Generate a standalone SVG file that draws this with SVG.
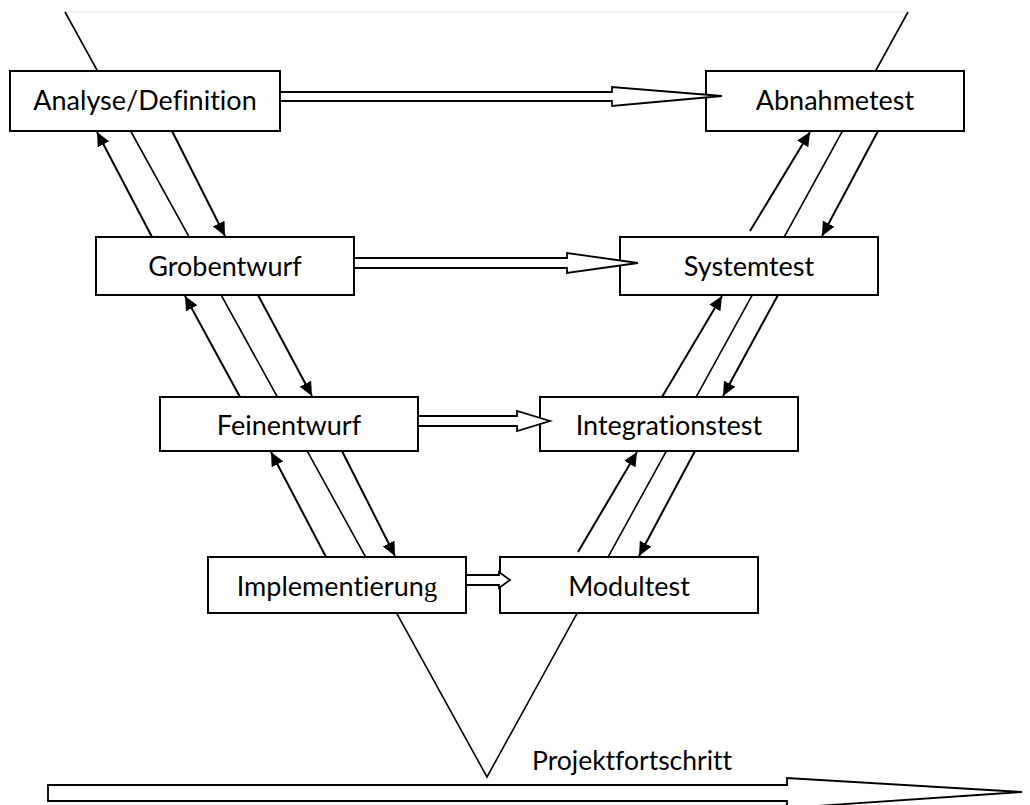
<svg xmlns="http://www.w3.org/2000/svg" width="1030" height="805" viewBox="0 0 1030 805">
  <style>
    .box { fill: #fff; stroke: #000; stroke-width: 2; }
    .lbl { font-family: Lato, "Open Sans", sans-serif; font-size: 27px; fill: #000; text-anchor: middle; font-variant-ligatures: none; }
    .small { font-family: Lato, "Open Sans", sans-serif; font-size: 26.5px; fill: #000; font-variant-ligatures: none; }
    .vee { fill: none; stroke: #000; stroke-width: 1.6; }
    .flow { stroke: #000; stroke-width: 2; fill: none; marker-end: url(#head); }
    .block { fill: #fff; stroke: #000; stroke-width: 1.8; stroke-linejoin: miter; }
  </style>
  <defs>
    <marker id="head" markerUnits="userSpaceOnUse" markerWidth="15" markerHeight="13" refX="14" refY="6.5" orient="auto">
      <path d="M0,0 L14,6.5 L0,13 z" fill="#000"/>
    </marker>
  </defs>

  <rect width="1030" height="805" fill="#fff"/>

  <!-- faint rule across the top -->
  <line x1="65" y1="12" x2="908" y2="12" stroke="#e8e8e8" stroke-width="1.2"/>

  <!-- the V shape behind the phases -->
  <g id="vshape">
    <polyline class="vee" points="65,12 487,777 908,12"/>
  </g>

  <!-- phases -->
  <g id="analyse">
    <rect class="box" x="10" y="71" width="270" height="60"/>
    <text class="lbl" x="145" y="110">Analyse/Definition</text>
  </g>
  <g id="abnahmetest">
    <rect class="box" x="706" y="71" width="258" height="60"/>
    <text class="lbl" x="835" y="110">Abnahmetest</text>
  </g>
  <g id="grobentwurf">
    <rect class="box" x="96" y="237" width="258" height="58"/>
    <text class="lbl" x="225" y="276">Grobentwurf</text>
  </g>
  <g id="systemtest">
    <rect class="box" x="620" y="237" width="258" height="58"/>
    <text class="lbl" x="749" y="276">Systemtest</text>
  </g>
  <g id="feinentwurf">
    <rect class="box" x="160" y="397" width="258" height="54"/>
    <text class="lbl" x="289" y="435">Feinentwurf</text>
  </g>
  <g id="integrationstest">
    <rect class="box" x="540" y="397" width="258" height="54"/>
    <text class="lbl" x="669" y="435">Integrationstest</text>
  </g>
  <g id="implementierung">
    <rect class="box" x="208" y="557" width="258" height="56"/>
    <text class="lbl" x="337" y="596">Implementierun<tspan font-family="'Liberation Serif', serif">g</tspan></text>
  </g>
  <g id="modultest">
    <rect class="box" x="500" y="557" width="258" height="56"/>
    <text class="lbl" x="629" y="596">Modultest</text>
  </g>

  <!-- connectors -->
  <g id="connectors">
    <!-- hollow block arrows between matching phases -->
    <polygon class="block" points="280,92 612,92 612,87 722,96 612,106 612,101 280,101"/>
    <polygon class="block" points="354,258 567,258 567,253 638,263 567,273 567,268 354,268"/>
    <polygon class="block" points="418,416 517,416 517,411 550,421 517,431 517,426 418,426"/>
    <polygon class="block" points="466,575 499,575 499,572 510,580 499,588 499,585 466,585"/>

    <!-- left branch -->
    <line class="flow" x1="152" y1="237" x2="97" y2="132"/>
    <line class="flow" x1="172" y1="131" x2="225" y2="236"/>
    <line class="flow" x1="240" y1="397" x2="185" y2="296"/>
    <line class="flow" x1="258" y1="295" x2="312" y2="396"/>
    <line class="flow" x1="326" y1="557" x2="271" y2="452"/>
    <line class="flow" x1="342" y1="451" x2="395" y2="556"/>

    <!-- right branch -->
    <line class="flow" x1="750" y1="231" x2="810" y2="132"/>
    <line class="flow" x1="878" y1="131" x2="822" y2="236"/>
    <line class="flow" x1="662" y1="397" x2="722" y2="296"/>
    <line class="flow" x1="778" y1="295" x2="723" y2="396"/>
    <line class="flow" x1="578" y1="552" x2="637" y2="452"/>
    <line class="flow" x1="695" y1="451" x2="639" y2="556"/>

    <!-- progress arrow -->
    <polygon class="block" points="48,785 787,785 787,778 1022,792 787,808 787,801 48,801"/>
  </g>

  <text class="small" x="532" y="770">Projektfortschritt</text>
</svg>
